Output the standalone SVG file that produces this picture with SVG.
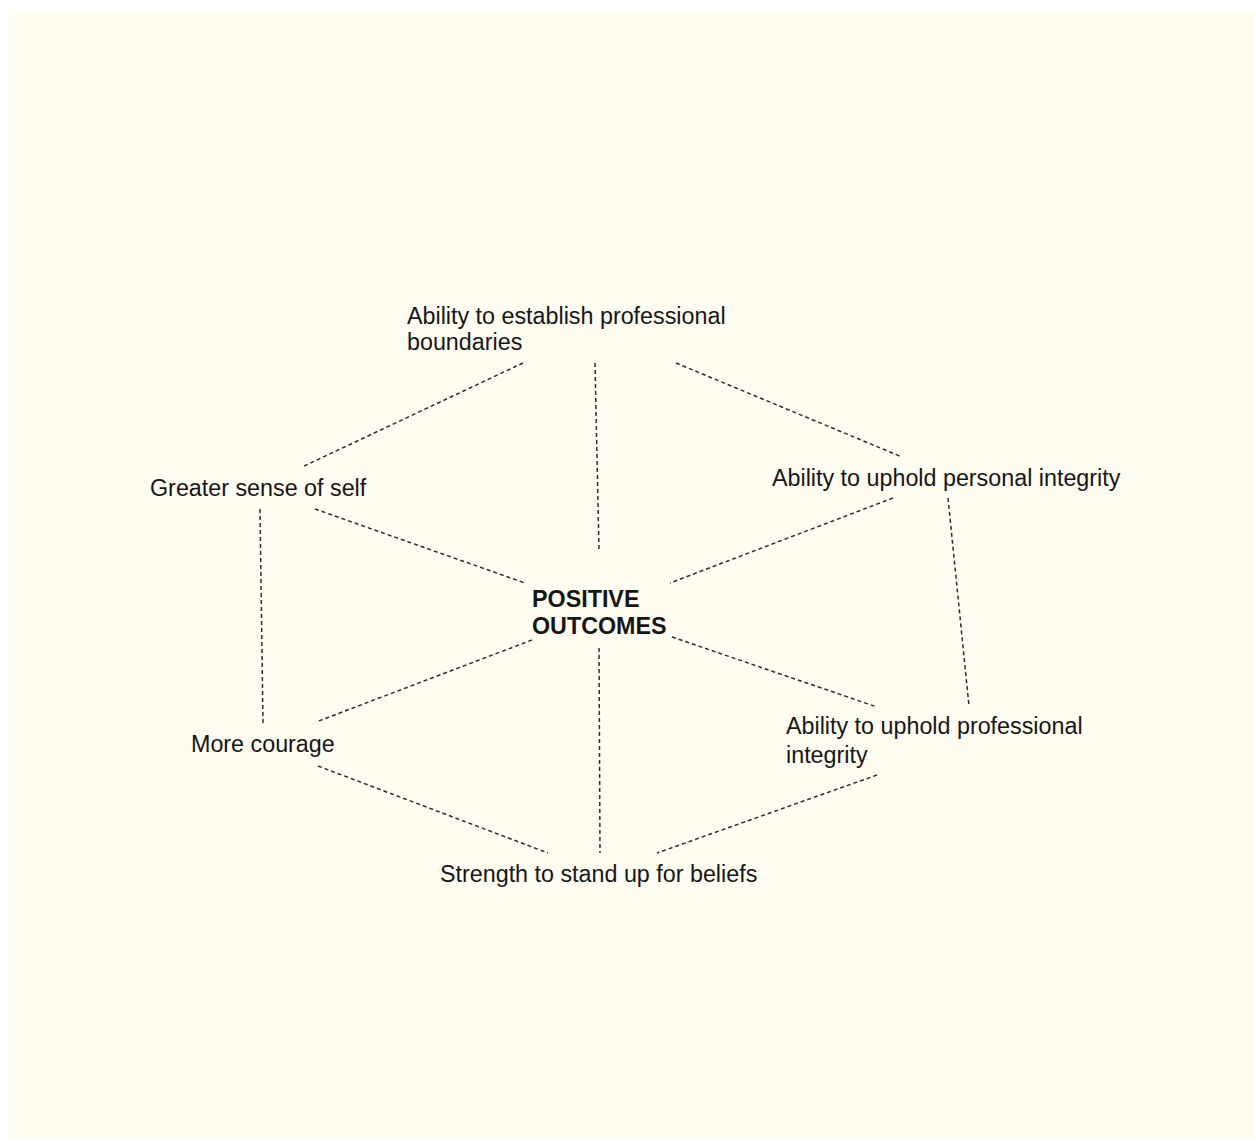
<svg xmlns="http://www.w3.org/2000/svg" width="1255" height="1139" viewBox="0 0 1255 1139">
  <style>
    .lbl { font-family: "Liberation Sans", Arial, Helvetica, sans-serif; font-size: 23.3px; fill: #161616; }
    .hub { font-weight: bold; }
    .link { stroke: #2c2c2c; stroke-width: 1.5; stroke-dasharray: 4 3; fill: none; }
  </style>
  <rect x="0" y="0" width="1255" height="1139" fill="#ffffff"/>
  <rect x="7" y="11" width="1248" height="1128" fill="#fffcf2"/>

  <g id="connectors">
    <line class="link" x1="523" y1="363" x2="302" y2="467"/>
    <line class="link" x1="595" y1="363" x2="599" y2="550"/>
    <line class="link" x1="676" y1="363" x2="902" y2="457"/>
    <line class="link" x1="315" y1="509" x2="525" y2="583"/>
    <line class="link" x1="893" y1="498" x2="670" y2="583"/>
    <line class="link" x1="260" y1="509" x2="263" y2="724"/>
    <line class="link" x1="948" y1="498" x2="969" y2="706"/>
    <line class="link" x1="532" y1="640" x2="316" y2="722"/>
    <line class="link" x1="672" y1="637" x2="877" y2="707"/>
    <line class="link" x1="599" y1="648" x2="600" y2="853"/>
    <line class="link" x1="318" y1="766" x2="548" y2="853"/>
    <line class="link" x1="877" y1="775" x2="657" y2="853"/>
  </g>

  <g id="node-center">
    <text class="lbl hub" x="532" y="607">POSITIVE</text>
    <text class="lbl hub" x="532" y="634">OUTCOMES</text>
  </g>
  <g id="node-boundaries">
    <text class="lbl" x="407" y="324">Ability to establish professional</text>
    <text class="lbl" x="407" y="350">boundaries</text>
  </g>
  <g id="node-self">
    <text class="lbl" x="150" y="496">Greater sense of self</text>
  </g>
  <g id="node-personal">
    <text class="lbl" x="772" y="486">Ability to uphold personal integrity</text>
  </g>
  <g id="node-courage">
    <text class="lbl" x="191" y="752">More courage</text>
  </g>
  <g id="node-professional">
    <text class="lbl" x="786" y="734">Ability to uphold professional</text>
    <text class="lbl" x="786" y="763">integrity</text>
  </g>
  <g id="node-beliefs">
    <text class="lbl" x="440" y="882">Strength to stand up for beliefs</text>
  </g>
</svg>
